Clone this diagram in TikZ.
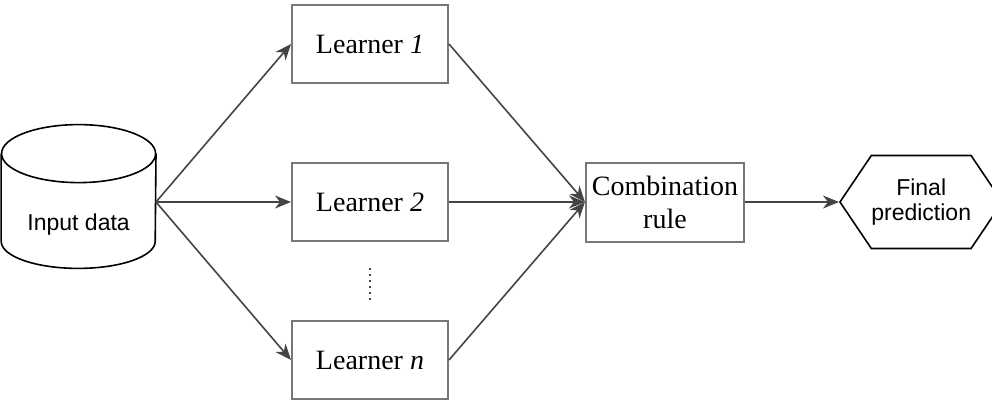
\documentclass[tikz,border=0pt]{standalone}
\usepackage{fontspec}
\setmainfont{Liberation Serif}
\setsansfont{Liberation Sans}
\definecolor{linegray}{HTML}{444444}
\definecolor{boxgray}{HTML}{777777}
\usepackage{tikz}
\usetikzlibrary{calc,positioning,arrows.meta,shapes.geometric,shapes.symbols}
\tikzset{
	>={Stealth[length=8pt,width=6.5pt,inset=2.5pt]},
	learner/.style={
		rectangle,
		draw=boxgray, line width=1pt,
		minimum width=78pt,
		minimum height=39pt,
		inner sep=0pt,
		font=\fontsize{14}{16.5}\selectfont,
		align=center},
	database/.style={
		rectangle,
		minimum width=77pt,
		minimum height=71.5pt,
		inner sep=0pt},
	dbline/.style={draw=black, line width=0.8pt},
	finalbox/.style={
		signal, signal to=west and east,
		signal pointer angle=112,
		draw=black, line width=0.8pt,
		minimum width=77pt,
		minimum height=46.5pt,
		inner sep=0pt,
		font=\sffamily\fontsize{11.5}{12.5}\selectfont,
		align=center},
	line/.style={draw=linegray, line width=0.8pt, ->},
}

\begin{document}
\begin{tikzpicture}
[node distance=39pt]
\useasboundingbox (0,0) rectangle (496pt,-201pt);
\node[learner] (l2) at (185pt,-101pt) {Learner \textit{2}};
\node[learner, above=of l2] (l1) {Learner \textit{1}};
\node[learner, below=of l2] (ln) {Learner \textit{n}};
\node[database, left=67.5pt of l2, yshift=2.75pt,
	label={[yshift=-14pt, font=\sffamily\fontsize{11.5}{13}\selectfont]center:Input data}] (data) {};
% the cylinder round the input data
\draw[dbline] ([yshift=-14.5pt]data.north) ellipse[x radius=38.5pt, y radius=14.5pt];
\draw[dbline] ([yshift=-14.5pt]data.north west) -- ([yshift=13.5pt]data.south west)
	arc[start angle=180, end angle=360, x radius=38.5pt, y radius=13.5pt]
	-- ([yshift=-14.5pt]data.north east);
\node[learner, right=68pt of l2, minimum width=79pt, minimum height=39.5pt] (comb) {Combination\\rule};
\node[finalbox, right=47pt of comb] (final) {Final\\prediction};
% inputs to the learners
\foreach \l in {l1,l2,ln}
	\path[line] (data.east |- l2) -- (\l.west);
% learners to the rule
\foreach \l in {l1,l2,ln}
	\path[line] (\l.east) -- (comb.west);
\path[line] (comb) -- (final);
\draw[linegray, line width=0.9pt, dash pattern=on 0.9pt off 2.1pt] ([yshift=-13pt]l2.south) -- ([yshift=10pt]ln.north);
\end{tikzpicture}
\end{document}
